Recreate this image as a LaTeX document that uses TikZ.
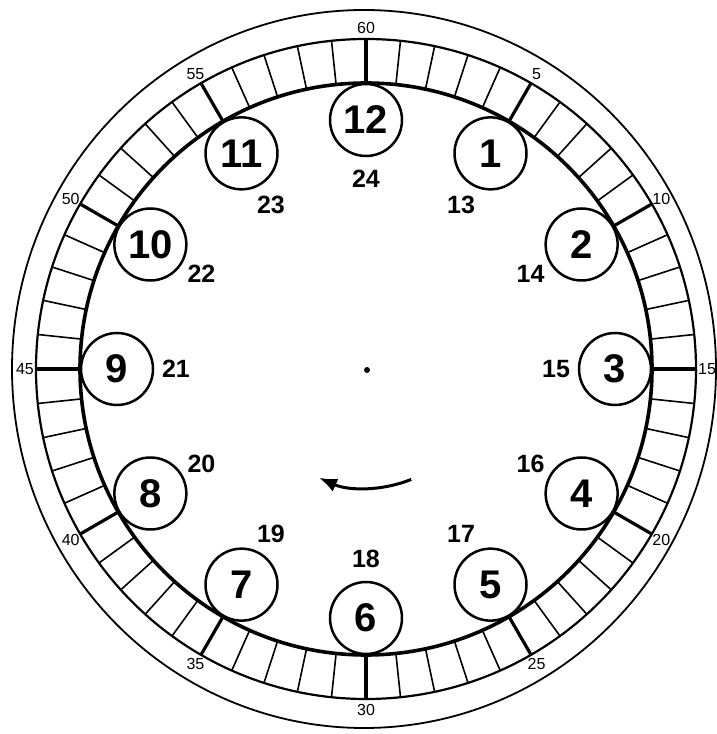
\documentclass[tikz,border=0pt]{standalone}
\usepackage{fontspec}
\setmainfont{Liberation Sans}
\usetikzlibrary{arrows.meta}
\tikzset{
  hourring/.style={circle,draw,line width=2.5pt,minimum size=72pt,inner sep=0pt,font=\fontsize{40}{40}\selectfont\bfseries},
  dayhour/.style={inner sep=0pt,font=\fontsize{25}{25}\selectfont\bfseries},
  minlabel/.style={inner sep=0pt,font=\fontsize{16}{16}\selectfont},
  minortick/.style={line width=1.6pt},
  majortick/.style={line width=3.2pt},
  turn/.style={-{Latex[length=18pt,width=14pt]},line width=3pt}
}

\begin{document}
\begin{tikzpicture}[x=1pt,y=1pt]
  \useasboundingbox (0,0) rectangle (717,734);
  \coordinate (c) at (366,365);
  % rim and minute band
  \draw[line width=1.8pt] (364,365) ellipse [x radius=352pt,y radius=359pt];
  \draw[line width=2.2pt] (c) circle (330pt);
  \draw[line width=3.6pt] (c) circle (286pt);
  \foreach \m in {0,...,59}
    \draw[minortick] ([shift={({90-6*\m}:286pt)}]c) -- ([shift={({90-6*\m}:330pt)}]c);
  \foreach \m in {0,5,...,55}
    \draw[majortick] ([shift={({90-6*\m}:286pt)}]c) -- ([shift={({90-6*\m}:330pt)}]c);
  \foreach \m in {5,10,...,60}
    \node[minlabel] (m\m) at ([shift={({90-6*\m}:341pt)}]c) {\m};
  % hours
  \foreach \h in {1,...,12}
    \node[hourring] (h\h) at ([shift={({90-30*\h}:249pt)}]c) {\h};
  \foreach \h [evaluate=\h as \d using {int(\h+12)}] in {1,...,12}
    \node[dayhour] (d\d) at ([shift={({90-30*\h}:190pt)}]c) {\d};
  % hub and direction
  \node[circle,fill,inner sep=0pt,minimum size=6pt] (hub) at (367,364) {};
  \coordinate (turnstart) at ([shift={(-68:118pt)}]hub);
  \draw[turn] (turnstart) arc[start angle=-68,end angle=-114,radius=118pt];
\end{tikzpicture}
\end{document}
